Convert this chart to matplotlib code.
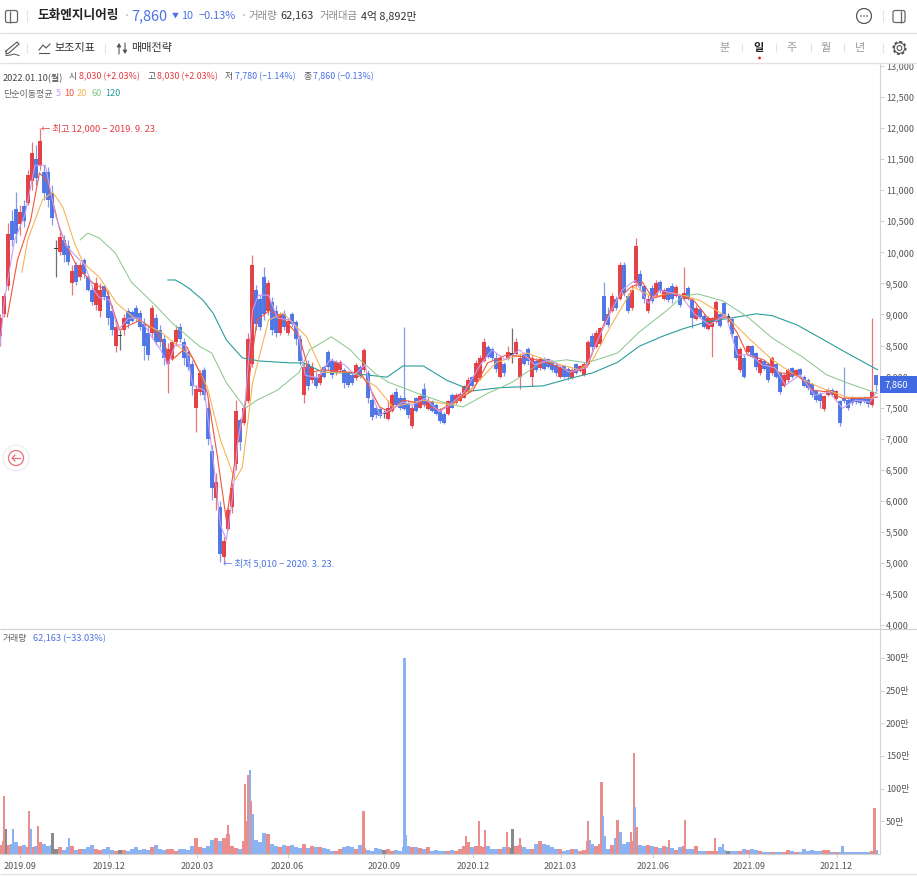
import numpy as np
import matplotlib
matplotlib.use("Agg")
import matplotlib.pyplot as plt
from matplotlib.patches import Circle, FancyBboxPatch, Rectangle

plt.rcParams['font.family'] = ['Noto Sans CJK KR', 'DejaVu Sans']

# ---- candles, sampled along the sessions ----
high = [9000,9350,10480,10680,10970,10760,10840,11330,11780,11730,12000,11400,11370,11080,10200,10330,10280,10200,9800,9840,
        9840,9910,9640,9440,9600,9500,9470,9390,9150,8910,8750,9000,9100,9070,9150,9070,8940,8830,9150,9000,
        8830,8670,8540,8590,8830,8860,8620,8430,8270,7860,8110,8150,7620,6900,6450,6000,5420,5900,6290,7620,
        7330,7540,8700,9950,9470,9310,9760,9550,9280,9150,9040,9070,8940,9040,8910,8670,8220,8270,8230,8070,
        8070,8190,8430,8300,8270,8270,8140,8070,8060,8220,8190,8460,8110,7650,7540,7510,7460,7620,7730,7810,
        7700,8800,7620,7540,7670,7700,7890,7670,7620,7570,7490,7430,7620,7730,7730,7750,7860,8000,8010,8270,
        8350,8620,8510,8480,8380,8350,8230,8500,8780,8620,8380,8400,8480,8350,8300,8310,8310,8300,8270,8230,
        8190,8190,8150,8140,8220,8190,8230,8590,8700,8750,8800,9520,9120,9350,9300,9840,9840,9350,9470,10230,
        9720,9470,9310,9470,9550,9550,9430,9440,9500,9470,9310,9760,9450,9260,9150,9100,9000,8970,8960,9230,
        9020,9200,9020,8940,8670,8480,8350,8510,8510,8400,8300,8270,8230,8330,8220,8070,8060,8140,8150,8120,
        8140,8020,7980,7900,7780,7750,7700,7810,7810,7780,7620,8150,7650,7680,7670,7680,7680,7670,8950,8030]
low = [8500,8960,9400,10100,10150,10280,10400,10760,11000,11080,11330,10840,10730,10440,9600,9950,9840,9800,9310,9470,
       9550,9590,9370,9150,9070,8960,9230,8830,8670,8400,8430,8670,8780,8880,8880,8750,8270,8270,8620,8510,
       8480,8190,7730,8270,8500,8560,8190,8110,7700,7110,7700,7620,6900,6010,5850,5010,5010,5530,5810,6500,
       6820,7220,7570,8150,8750,8750,8910,8990,8670,8640,8670,8750,8670,8800,8510,8190,7570,7780,7900,7820,
       7870,7980,8110,7980,8030,8080,7820,7830,7860,7950,7980,8080,7570,7300,7330,7330,7330,7300,7430,7530,
       7460,7460,7330,7170,7430,7490,7510,7460,7430,7380,7250,7240,7380,7490,7560,7590,7650,7740,7820,7900,
       7950,8230,8300,8270,8070,7980,8010,8270,8220,8350,7800,8190,8190,7850,8080,8110,8110,8140,8080,8010,
       7980,7980,7950,7960,8040,8080,8010,8190,8430,8460,8510,8830,8800,9040,9070,9230,9300,9020,9070,9440,
       9390,9180,9020,9180,9280,9340,9230,9200,9180,9280,9120,9230,9230,8780,8910,8940,8780,8750,8310,8860,
       8800,8960,8880,8640,8270,8070,7980,8380,8300,8110,8030,8110,7910,8030,7980,7720,7830,7910,7980,8000,
       8000,7830,7790,7670,7590,7490,7450,7680,7680,7620,7210,7570,7460,7550,7560,7540,7570,7510,7510,7780]
opens = [8650,9000,9450,10500,10700,10450,10750,10800,11150,11500,11400,11300,11300,10950,10050,10000,10200,10100,9500,9800,
         9600,9880,9600,9400,9150,9050,9450,9300,9050,8500,8650,8750,9050,9040,9100,9030,8850,8700,8700,8950,
         8750,8600,8200,8300,8550,8800,8550,8400,8200,7500,7750,8100,7500,6800,6050,5900,5100,5550,5900,6600,
         7300,7250,7600,8200,9400,9250,9600,9050,9200,9050,8700,9000,8700,9000,8880,8600,7700,8200,7950,8000,
         7900,8150,8400,8250,8050,8100,8100,8050,8030,7970,8150,8100,8050,7620,7500,7480,7390,7320,7450,7750,
         7650,7650,7580,7200,7650,7500,7800,7480,7600,7550,7450,7400,7400,7700,7570,7600,7660,7750,7990,7920,
         7980,8250,8480,8450,8300,8000,8200,8280,8350,8370,8000,8370,8450,8000,8250,8130,8280,8280,8250,8180,
         8000,8170,8120,7980,8200,8090,8020,8200,8650,8480,8530,9300,9000,9060,9250,9250,9800,9300,9100,9500,
         9650,9450,9050,9430,9300,9530,9250,9420,9450,9290,9290,9250,9420,9240,8930,9080,8980,8770,8800,8880,
         9000,9180,8950,8920,8650,8100,8300,8400,8490,8380,8060,8250,8200,8050,8200,8050,7850,7950,8130,8010,
         8120,8000,7950,7880,7760,7720,7480,7700,7790,7640,7600,7650,7630,7660,7650,7650,7660,7650,7550,8030]
closes = [8950,9300,10300,10200,10300,10650,10500,11250,11600,11200,11800,10950,10850,10550,10050,10250,9950,9850,9700,9520,
          9800,9650,9400,9200,9500,9400,9280,8950,8750,8800,8650,8950,8850,8900,8920,8800,8500,8350,9100,8550,
          8550,8300,8450,8550,8750,8600,8300,8150,7850,7800,8050,7700,7000,6200,6300,5150,5350,5850,6200,7450,
          6950,7500,8600,9800,8850,8800,9000,9500,8750,8700,9000,8800,8900,8850,8600,8250,8150,7850,8150,7850,
          8040,8000,8150,8020,8230,8230,7900,7870,7900,8180,8000,8420,7650,7350,7380,7370,7390,7500,7700,7550,
          7500,7480,7380,7500,7450,7680,7550,7600,7450,7400,7280,7260,7600,7500,7700,7720,7840,7950,7850,8220,
          8300,8550,8320,8300,8120,8300,8050,8400,8350,8550,8300,8200,8250,8300,8100,8290,8120,8160,8100,8050,
          8150,8000,7990,8110,8060,8170,8210,8550,8480,8700,8780,8900,8830,9300,9100,9800,9350,9050,9400,10100,
          9450,9250,9250,9220,9500,9370,9400,9230,9250,9440,9150,9350,9250,8950,9100,8960,8800,8950,8950,9200,
          8820,8980,8950,8680,8300,8450,8000,8500,8320,8150,8270,8120,7950,8300,8000,7750,8030,8100,8000,8100,
          8020,7850,7810,7700,7620,7600,7680,7790,7700,7760,7250,7600,7500,7570,7590,7570,7600,7560,7750,7860]
volume = [14,20,14,16,18,12,14,10,10,12,18,16,12,14,8,10,6,10,12,6,
          8,8,10,14,8,6,8,10,6,4,6,6,4,8,10,6,8,6,10,14,
          7,6,8,7,5,7,7,6,12,25,10,9,12,22,24,20,25,30,12,9,
          8,20,50,40,22,18,32,30,15,12,10,14,12,14,10,9,16,9,12,10,
          10,9,8,5,4,8,10,12,10,8,14,9,6,5,9,8,6,8,5,6,
          5,10,12,10,10,9,8,10,5,6,4,5,4,6,4,8,12,18,10,12,
          12,10,12,8,7,7,10,10,9,12,14,10,8,7,16,20,15,14,10,7,
          8,5,6,7,7,5,6,20,16,12,15,22,8,14,24,28,16,18,20,30,
          14,12,14,12,11,9,12,10,9,6,10,12,8,8,12,5,5,4,4,5,
          10,6,5,5,5,4,8,6,7,6,4,3,3,3,3,3,3,6,4,3,
          3,7,5,6,4,5,6,6,3,3,3,3,3,3,3,3,3,3,5,6]
candle_spacing = 2.74   # sessions between sampled candles

# ---- single-session volume peaks ----
peak_session = [3,4,9,20,21,26,36,47,156,168,170,171,172,173,249,277,278,319,328,332,347,351,356,
                403,404,412,413,414,423,425,432,434,435,436,458,469,490,495,577,599]
peak_volume = [89,39,38,66,38,43,32,25,44,107,121,128,81,61,66,300,29,28,50,37,33,39,25,
               51,21,110,58,28,52,33,34,154,72,41,21,52,24,15,12,70]
peak_kind = ['u','g','d','u','d','u','g','d','u','u','u','d','u','d','u','d','d','u','u','u','u','g','u',
             'u','d','u','d','d','u','d','u','u','d','u','u','u','u','d','d','u']

# ---- moving averages ----
ma5_s = [0,3,10,17,24,31,38,45,51,58,64,68,75,81,88,96,103,110,115,120,127,132,140,146,151,155,159,163,168,173,177,184,190,199,204,209,218,226,236,243,250,255,260,267,276,282,291,301,308,318,329,337,346,356,366,377,390,401,411,419,426,435,444,452,466,476,486,497,505,514,522,531,538,548,558,568,577,586,596,601]
ma5_v = [8500,9230,10200,10600,11400,11400,10600,10120,9960,9800,9400,9270,9230,8750,8940,8940,8670,8430,8190,8510,8510,7860,7780,6660,5610,5370,6010,6980,7620,9070,9310,9310,8940,8910,8750,8020,7980,8270,8190,8030,8190,7700,7380,7460,7590,7540,7650,7430,7540,7750,8190,8430,8270,8430,8190,8270,8070,8140,8670,9070,9390,9550,9180,9390,9310,9000,8830,9000,8350,8350,8190,8140,7860,8030,7700,7750,7490,7620,7590,7780]
ma10_s = [5,12,21,27,33,41,46,53,64,73,82,96,108,118,128,137,142,149,155,162,169,176,185,197,205,212,221,238,247,253,260,267,276,288,301,310,324,334,347,361,375,392,402,411,420,432,440,447,461,475,486,498,505,512,523,534,546,557,568,577,589,601]
ma10_v = [8960,9880,10520,11280,11120,10360,10090,9760,9500,9390,8750,8910,8700,8270,8480,8060,7740,6700,5690,6820,7670,8910,9070,8860,8640,8060,8110,8070,8060,7830,7510,7430,7620,7570,7460,7570,7780,8220,8350,8310,8220,8070,8150,8700,9180,9440,9520,9260,9350,9230,8910,8960,8700,8350,8270,8060,8030,7780,7750,7650,7650,7670]
ma20_s = [15,19,29,36,43,51,57,68,80,91,103,110,121,132,142,151,161,166,173,184,194,210,221,235,242,258,269,290,310,324,340,361,379,397,406,418,434,447,461,479,498,514,529,546,562,580,598]
ma20_v = [9680,10200,10840,10970,10730,10150,9830,9600,9180,8960,8800,8720,8510,8300,7830,6980,6335,6540,7900,8910,9020,8640,8070,8070,8070,7830,7510,7620,7540,7830,8230,8380,8220,8110,8270,8800,9440,9280,9350,9230,8960,8590,8270,8000,7820,7670,7650]
ma60_s = [55,60,68,79,90,105,118,137,145,155,168,176,190,205,212,227,240,245,258,266,286,303,317,334,351,370,388,402,423,438,457,468,478,495,512,529,550,566,580,601]
ma60_v = [10200,10310,10230,9990,9520,9180,8860,8480,8380,7900,7490,7620,7780,8070,8430,8640,8430,8300,8030,7910,7730,7590,7510,7730,7910,8220,8270,8220,8380,8720,9070,9300,9330,9220,8960,8620,8310,8030,7900,7730]
ma120_s = [115,120,125,130,135,139,146,155,166,178,199,208,221,233,238,265,276,290,306,324,342,372,392,406,423,438,454,468,484,505,518,529,546,562,580,601]
ma120_v = [9555,9555,9490,9410,9310,9230,9020,8590,8300,8250,8220,8220,8070,8060,8060,7990,8170,8170,7940,7770,7820,7850,7980,8060,8230,8490,8650,8770,8880,8960,9010,8980,8830,8620,8380,8110]

# ---- axis labels ----
date_session = [14,75,135,197,263,324,384,447,513,573]
date_labels = ['2019.09','2019.12','2020.03','2020.06','2020.09','2020.12','2021.03','2021.06','2021.09','2021.12']
price_ticks = list(range(4000, 13001, 500))
vol_ticks = [50,100,150,200,250,300]

# ---- colours ----
RED, BLUE, BLACK = '#e23b40', '#4c72e4', '#333333'
VRED, VBLUE, VGRAY = '#e98d8d', '#8db2f1', '#8a8a8a'
PURPLE, MA10C, ORANGE, GREEN, TEAL = '#c79bf2', '#f2553d', '#f5b556', '#86c58a', '#2a9d9a'
LINE = '#e3e3e3'
W, H = 917, 876

fig = plt.figure(figsize=(W/100, H/100), dpi=100, facecolor='white')
def axes_px(x0, x1, top, bottom):
    return fig.add_axes([x0/W, 1-bottom/H, (x1-x0)/W, (bottom-top)/H])

px_per_session = 1.46
ax = axes_px(0, 880, 64, 629)
vax = axes_px(0, 880, 629, 854)
xmax = 880/px_per_session

x = np.arange(len(closes))*candle_spacing
o, c, hi, lo = map(np.array, (opens, closes, high, low))
cols = np.where(c > o, RED, np.where(c < o, BLUE, BLACK))
ax.vlines(x, lo, hi, colors=cols, lw=0.9, alpha=0.7, zorder=2)
flat = c == o
ax.bar(x, np.where(flat, 25, np.abs(c-o)), bottom=np.minimum(o, c), width=2.3, color=cols, lw=0, alpha=0.95, zorder=3)
for s, v, col, lw in [(ma120_s, ma120_v, TEAL, 0.8), (ma60_s, ma60_v, GREEN, 0.7), (ma20_s, ma20_v, ORANGE, 0.8),
                      (ma10_s, ma10_v, MA10C, 0.8), (ma5_s, ma5_v, PURPLE, 0.8)]:
    ax.plot(s, v, color=col, lw=lw, zorder=4, solid_joinstyle='round')
ax.set_xlim(0, xmax)
ax.set_ylim(13000-563*16.1, 13000+2*16.1)
ax.yaxis.tick_right()
ax.set_yticks(price_ticks)
ax.set_yticklabels([f'{p:,}' for p in price_ticks])
ax.set_xticks([])

vcols = np.where(c > o, VRED, np.where(c < o, VBLUE, VGRAY))
vax.bar(x, volume, width=candle_spacing, color=vcols, lw=0, zorder=2)
kinds = {'u': VRED, 'd': VBLUE, 'g': VGRAY}
vax.bar(peak_session, peak_volume, width=1.5, color=[kinds[k] for k in peak_kind], lw=0, zorder=3)
vax.set_xlim(0, xmax)
vax.set_ylim(0, 225*300/196)
vax.yaxis.tick_right()
vax.set_yticks(vol_ticks)
vax.set_yticklabels([f'{v}만' for v in vol_ticks])
vax.set_xticks(date_session)
vax.set_xticklabels(date_labels)

for a in (ax, vax):
    for s in ('left', 'top', 'bottom'):
        a.spines[s].set_visible(False)
    a.spines['right'].set_color('#d4d4d4')
    a.spines['right'].set_linewidth(0.8)
    a.tick_params(axis='y', length=3, width=0.7, color='#cfcfcf', labelsize=6.5, labelcolor='#555555', pad=1.2)
    a.tick_params(axis='x', length=3, width=0.7, color='#cfcfcf', labelsize=6.5, labelcolor='#555555', pad=3)
    a.set_facecolor('none')
vax.spines['bottom'].set_visible(True)
vax.spines['bottom'].set_color('#cfcfcf')
vax.spines['bottom'].set_linewidth(0.8)

# ---- page furniture, drawn in pixel coordinates ----
ov = fig.add_axes([0, 0, 1, 1], zorder=10)
ov.set_xlim(0, W); ov.set_ylim(H, 0); ov.axis('off'); ov.patch.set_alpha(0)

def T(px, py, s, size=7.2, color='#444444', **kw):
    kw.setdefault('va', 'center')
    ov.text(px, py, s, fontsize=size, color=color, **kw)
def hline(y, x0=0, x1=W, c=LINE, lw=1.0):
    ov.plot([x0, x1], [y, y], color=c, lw=lw, solid_capstyle='butt')
def vline(xp, y0, y1, c=LINE, lw=0.8):
    ov.plot([xp, xp], [y0, y1], color=c, lw=lw, solid_capstyle='butt')

hline(33); hline(63); hline(629, c='#cfcfcf', lw=0.8); hline(874)

# panel icons
for cx, div in ((11.5, 10.0), (899, 900.5)):
    ov.add_patch(FancyBboxPatch((cx-6, 10.5), 12, 12, boxstyle='round,pad=0,rounding_size=2',
                                fc='none', ec='#666666', lw=0.9))
    vline(div, 10.5, 22.5, c='#666666', lw=0.9)
for xs in (27, 883):
    vline(xs, 10, 22)
for xs, y0, y1 in ((27, 43, 53), (105, 43, 53), (742, 43, 52), (776, 43, 52), (811, 43, 52), (844, 43, 52), (883, 43, 53)):
    vline(xs, y0, y1)

# header row
T(37, 16, '도화엔지니어링', 9.1, '#222222', fontweight='bold')
T(124, 16, '·', 7.5, '#999999')
T(131, 16, '7,860', 10.4, BLUE)
T(171.5, 16, '▼', 5, BLUE)
T(181, 16, '10', 7.8, BLUE)
T(199, 16, '−0.13%', 7.9, BLUE)
T(241, 16, '·', 7.5, '#999999')
T(248, 16, '거래량', 7.5, '#888888')
T(280, 16, '62,163', 7.8, '#333333')
T(320, 16, '거래대금', 7.4, '#888888')
T(361, 16, '4억 8,892만', 7.8, '#333333')

# toolbar
ov.plot([6, 17, 19, 9, 6, 6], [51, 42, 44, 53, 54, 51], color='#555555', lw=0.8)
ov.plot([6, 11, 14, 19], [55.5, 55, 54, 55.5], color='#555555', lw=0.7)
ov.plot([39, 43, 46, 50], [50, 45, 48, 44], color='#555555', lw=0.8)
ov.plot([39, 49], [53, 53], color='#555555', lw=0.8)
T(54, 48, '보조지표', 8.0, '#333333')
ov.annotate('', (119, 43), (119, 54), arrowprops=dict(arrowstyle='-|>,head_width=0.12,head_length=0.2', lw=0.8, color='#555555', shrinkA=0, shrinkB=0))
ov.annotate('', (125, 54), (125, 43), arrowprops=dict(arrowstyle='-|>,head_width=0.12,head_length=0.2', lw=0.8, color='#555555', shrinkA=0, shrinkB=0))
T(131, 48, '매매전략', 8.0, '#333333')
for xs, s, col, w in ((725, '분', '#999999', 'normal'), (759, '일', '#222222', 'bold'), (792, '주', '#999999', 'normal'),
                      (826, '월', '#999999', 'normal'), (860, '년', '#999999', 'normal')):
    T(xs, 48, s, 8.0, col, ha='center', fontweight=w)
ov.add_patch(Circle((759.5, 58), 1.4, fc='#e0202a', ec='none'))
ov.add_patch(Circle((864, 16), 7.5, fc='none', ec='#555555', lw=0.9))
for dx in (-3, 0, 3):
    ov.add_patch(Circle((864+dx, 16), 0.8, fc='#555555', ec='none'))
ov.add_patch(Circle((899.5, 48), 5.8, fc='none', ec='#555555', lw=1.8, ls=(0, (1.1, 0.7))))
ov.add_patch(Circle((899.5, 48), 5.2, fc='white', ec='#555555', lw=0.7))
ov.add_patch(Circle((899.5, 48), 2.4, fc='none', ec='#555555', lw=0.8))

# data read-out
T(3, 77, '2022.01.10(월)', 6.6, '#444444')
T(69, 77, '시', 6.4, '#555555')
T(79, 77, '8,030 (+2.03%)', 6.4, RED)
T(147, 77, '고', 6.4, '#555555')
T(157, 77, '8,030 (+2.03%)', 6.4, RED)
T(225, 77, '저', 6.4, '#555555')
T(235, 77, '7,780 (−1.14%)', 6.4, BLUE)
T(303, 77, '종', 6.4, '#555555')
T(313, 77, '7,860 (−0.13%)', 6.4, BLUE)
T(3, 94, '단순이동평균', 6.5, '#666666')
T(56, 94, '5', 6.6, PURPLE)
T(64, 94, '10', 6.6, MA10C)
T(77, 94, '20', 6.6, ORANGE)
T(91, 94, '60', 6.6, GREEN)
T(105, 94, '120', 6.6, TEAL)

# extremes
T(41, 128, '← 최고 12,000 − 2019. 9. 23.', 6.7, RED)
T(223, 563, '← 최저 5,010 − 2020. 3. 23.', 6.7, BLUE)

# volume read-out
T(3, 639, '거래량', 6.4, '#666666')
T(33, 639, '62,163 (−33.03%)', 6.6, BLUE)

# current price tag
ov.add_patch(Rectangle((880, 376), 37, 17, fc='#4169e1', ec='none'))
T(885, 384.5, '7,860', 6.8, 'white')

# back-to-latest button
ov.add_patch(Circle((16, 458), 13, fc='white', ec='#f1f1f1', lw=1.2))
ov.add_patch(Circle((16, 458), 7.5, fc='none', ec='#e8707a', lw=0.9))
ov.plot([20, 12], [458, 458], color='#e8707a', lw=0.9)
ov.plot([15, 12, 15], [455, 458, 461], color='#e8707a', lw=0.9)

fig.savefig('out.png', dpi=100, facecolor='white')
